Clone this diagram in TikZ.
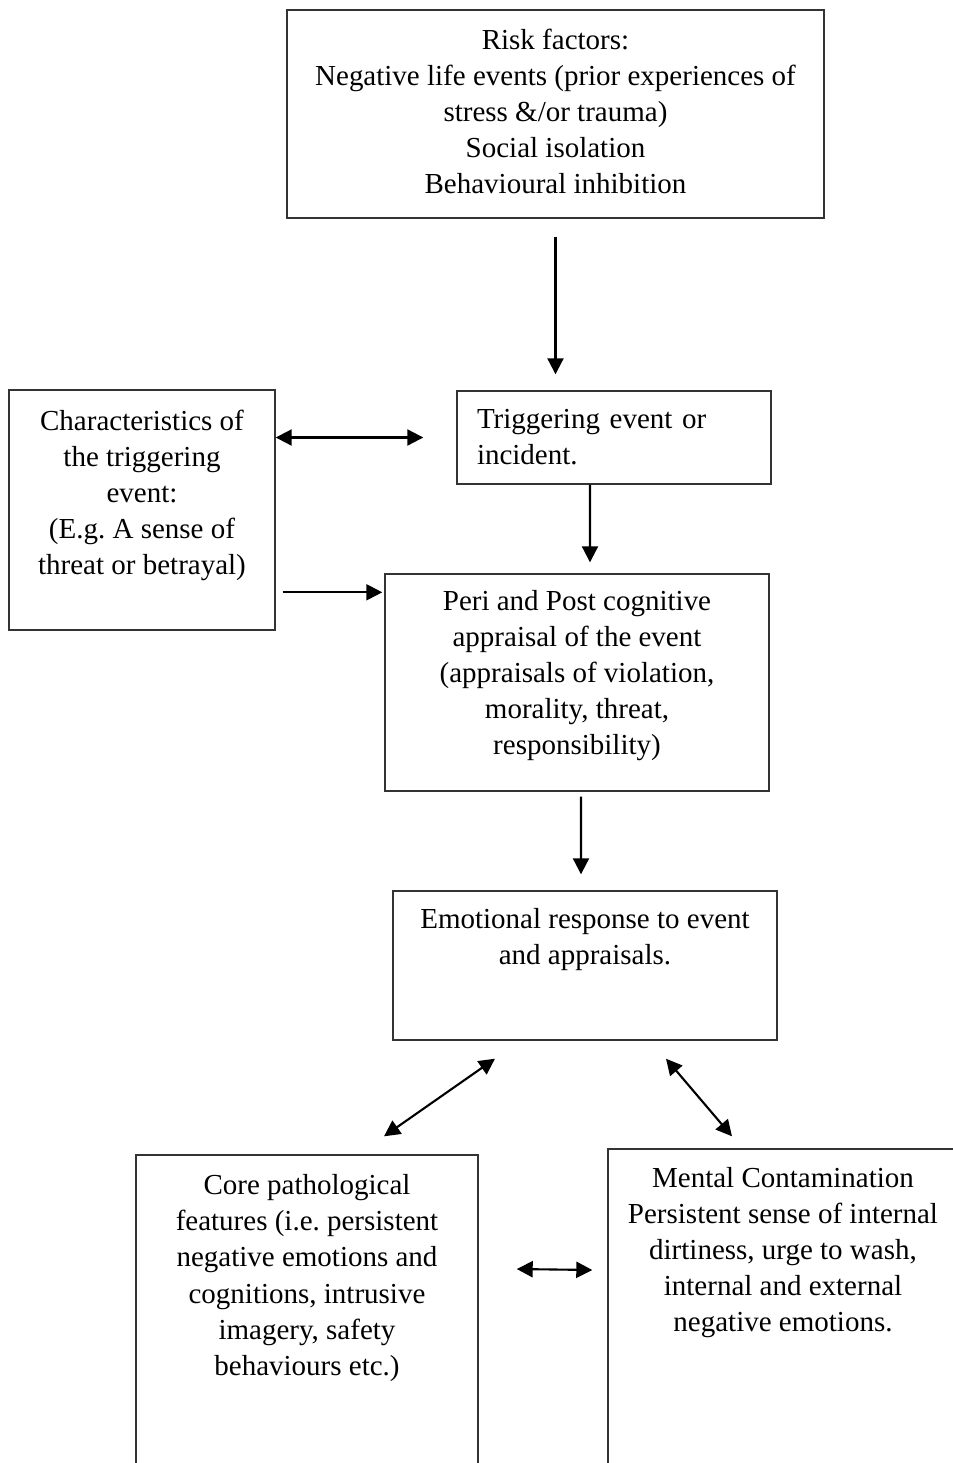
\documentclass[tikz,border=0pt]{standalone}
\usepackage{fontspec}
\setmainfont{Liberation Serif}
\usetikzlibrary{positioning,calc,arrows.meta}

\begin{document}
\begin{tikzpicture}[
        % Style for the boxes
        box/.style={
            draw=black!80,
            line width=0.8pt,
            inner sep=0pt
        },
        % Style for the texts inside the boxes
        boxtext/.style={
            align=center,
            font=\fontsize{16.5}{20.5}\selectfont\frenchspacing,
            inner sep=0pt
        },
        % Style for one-way arrows
        arr/.style={
            -{Triangle[length=0.32cm, width=0.32cm]},
            line width=1.2pt
        },
        % Style for two-way arrows
        dblarr/.style={
            {Triangle[length=0.32cm, width=0.32cm]}-{Triangle[length=0.32cm, width=0.32cm]},
            line width=1.2pt
        }
    ]

        \useasboundingbox (0,0) rectangle (19.04,-29.26);

        % --- 1. BOXES ---
        \node[box, minimum width=10.74cm, minimum height=4.16cm] (risk) at (11.11,-2.28) {};
        \node[box, minimum width=5.32cm, minimum height=4.8cm] (chars) at (2.84,-10.2) {};
        \node[box, boxtext, align=left, text width=5.48cm, inner xsep=0.4cm,
              minimum height=1.86cm] (trig) at (12.28,-8.75) {Triggering event or\\incident.};
        \node[box, minimum width=7.68cm, minimum height=4.34cm] (peri) at (11.54,-13.65) {};
        \node[box, minimum width=7.68cm, minimum height=2.98cm] (emo) at (11.7,-19.31) {};

        % bottom boxes run off the page
        \node[box, minimum width=6.84cm, minimum height=6.5cm] (core) at (6.14,-26.35) {};
        \node[box, minimum width=7.0cm, minimum height=6.62cm] (mental) at (15.66,-26.29) {};

        % --- 2. TEXTS ---
        \node[boxtext] (risktext) at (11.11,-2.22) {Risk factors:\\Negative life events (prior experiences of\\stress \&/or trauma)\\Social isolation\\Behavioural inhibition};
        \node[boxtext] (charstext) at (2.84,-9.9) {Characteristics of\\the triggering\\event:\\(E.g. A sense of\\threat or betrayal)};
        \node[boxtext] (peritext) at (11.54,-13.52) {Peri and Post cognitive\\appraisal of the event\\(appraisals of violation,\\morality, threat,\\responsibility)};
        \node[boxtext] (emotext) at (11.7,-18.8) {Emotional response to event\\and appraisals.};
        \node[boxtext] (coretext) at (6.14,-25.56) {Core pathological\\features (i.e. persistent\\negative emotions and\\cognitions, intrusive\\imagery, safety\\behaviours etc.)};
        \node[boxtext] (mentaltext) at (15.66,-25.06) {Mental Contamination\\Persistent sense of internal\\dirtiness, urge to wash,\\internal and external\\negative emotions.};

        % --- 3. ARROWS ---
        \draw[arr, shorten <=0.36cm, shorten >=0.32cm] (risk.south) -- (risk.south |- trig.north);
        \draw[dblarr, shorten >=0.66cm] (chars.east |- trig.west) -- (trig.west);
        \draw[arr, shorten <=0.14cm, shorten >=0.04cm] ($(chars.east |- peri.north west)+(0,-0.38)$) -- ($(peri.north west)+(0,-0.38)$);
        \draw[arr, shorten >=0.22cm] ([xshift=-0.48cm]trig.south) -- ([xshift=0.26cm]peri.north);
        \draw[arr, shorten <=0.1cm, shorten >=0.32cm] ([xshift=0.08cm]peri.south) -- ([xshift=-0.08cm]emo.north);

        \draw[dblarr] ([shift={(-1.8,-0.36)}]emo.south) -- ([shift={(1.54,0.36)}]core.north);
        \draw[dblarr] ([shift={(1.62,-0.36)}]emo.south) -- ([shift={(-1.02,0.24)}]mental.north);
        \draw[dblarr] ([shift={(0.76,0.97)}]core.east) -- ([shift={(-0.3,0.89)}]mental.west);

    \end{tikzpicture}
\end{document}
